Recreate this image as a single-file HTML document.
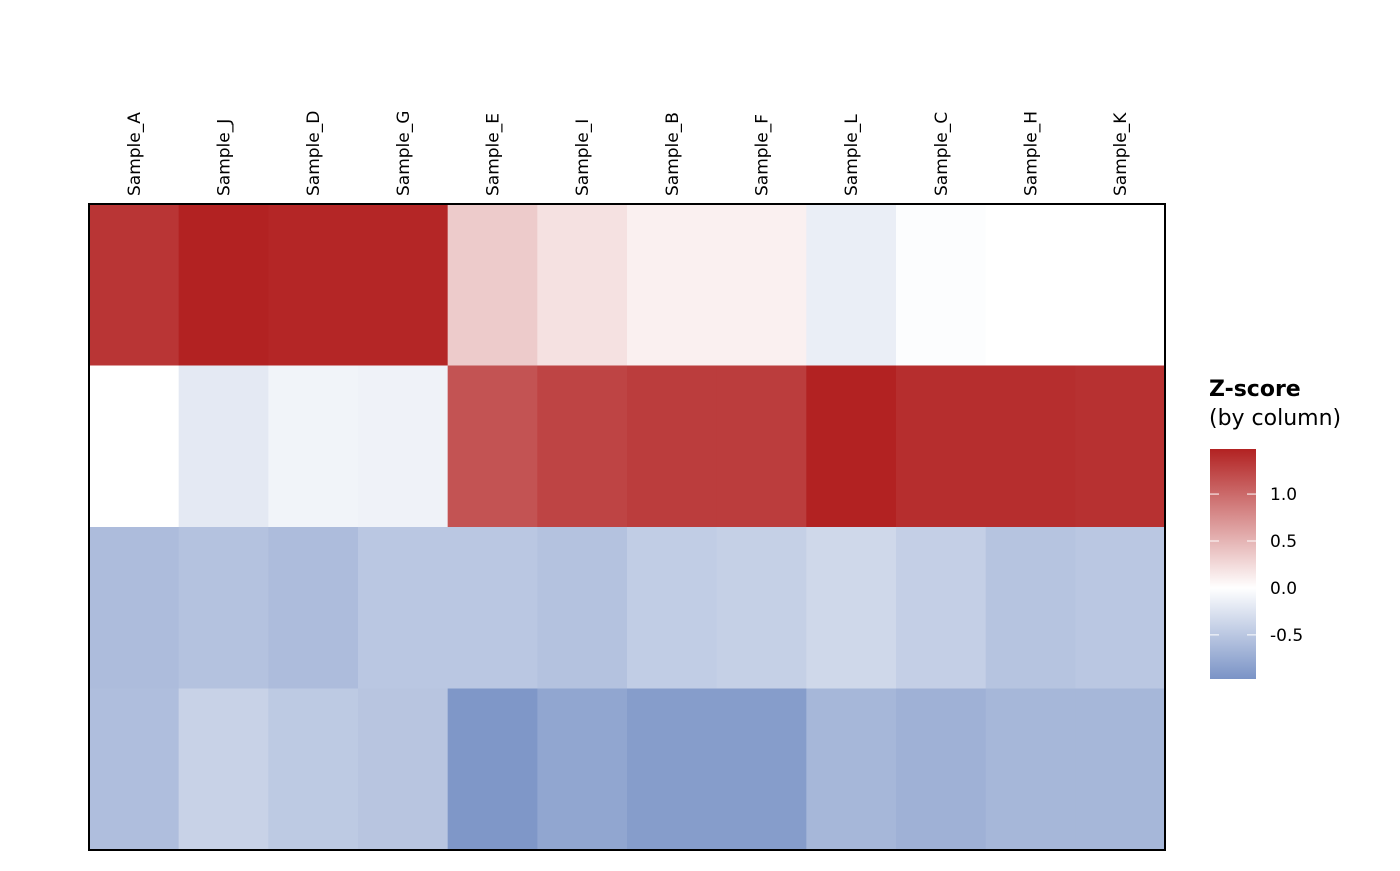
<!DOCTYPE html>
<html><head><meta charset="utf-8"><style>
body{margin:0;background:#fff;}
svg text{font-family:"DejaVu Sans","Liberation Sans",sans-serif;}
</style></head><body>
<svg id="chart" width="1400" height="866" xmlns="http://www.w3.org/2000/svg">
<g id="cells"></g>
<g id="collabels"></g>
<rect x="89" y="204" width="1076" height="646" fill="none" stroke="#000" stroke-width="2"/>
<g>
<text x="1209" y="396" font-size="22" font-weight="bold">Z-score</text>
<text x="1209" y="425" font-size="22">(by column)</text>
<defs><linearGradient id="lg" x1="0" y1="1" x2="0" y2="0">
<stop offset="0" stop-color="#7a93c6"/><stop offset="0.396" stop-color="#ffffff"/><stop offset="1" stop-color="#b22222"/>
</linearGradient></defs>
<rect x="1210" y="449" width="46" height="230" fill="url(#lg)"/>
<g id="legticks"></g>
</g>
</svg>
<script>
const samples=["Sample_A","Sample_J","Sample_D","Sample_G","Sample_E","Sample_I","Sample_B","Sample_F","Sample_L","Sample_C","Sample_H","Sample_K"];
const row1=[1.35,1.48,1.45,1.45,0.35,0.2,0.1,0.1,-0.15,-0.02,0.0,0.0];
const row2=[0.0,-0.2,-0.1,-0.12,1.15,1.25,1.3,1.3,1.48,1.4,1.4,1.38];
const row3=[-0.6,-0.55,-0.6,-0.5,-0.5,-0.55,-0.45,-0.42,-0.35,-0.43,-0.53,-0.5];
const row4=[-0.58,-0.4,-0.48,-0.52,-0.93,-0.8,-0.88,-0.88,-0.65,-0.7,-0.65,-0.65];
const legendTicks=[1.0,0.5,0.0,-0.5];
const legendLabels=["1.0","0.5","0.0","-0.5"];
const vmin=-0.97,vmax=1.48;
const rows=[row1,row2,row3,row4];
const NS="http://www.w3.org/2000/svg";
const x0=89,y0=204,W=1076,H=646;
const cw=W/samples.length,rh=H/rows.length;
function lerp(a,b,t){return a.map((v,i)=>Math.round(v+(b[i]-v)*t));}
function color(v){
  const blue=[122,147,198],white=[255,255,255],red=[178,34,34];
  let c; if(v<0){c=lerp(white,blue,Math.min(1,-v/(-vmin)));} else {c=lerp(white,red,Math.min(1,v/vmax));}
  return `rgb(${c[0]},${c[1]},${c[2]})`;
}
function legY(v){return 449+(vmax-v)/(vmax-vmin)*230;}
const cells=document.getElementById('cells');
rows.forEach((r,ri)=>r.forEach((v,ci)=>{
  const e=document.createElementNS(NS,'rect');
  e.setAttribute('x',x0+ci*cw);e.setAttribute('y',y0+ri*rh);
  e.setAttribute('width',cw+0.5);e.setAttribute('height',rh+0.5);
  e.setAttribute('fill',color(v));
  
  
  cells.appendChild(e);
}));
const cl=document.getElementById('collabels');
samples.forEach((s,i)=>{
  const t=document.createElementNS(NS,'text');
  const cx=x0+(i+0.5)*cw+6;
  t.setAttribute('transform',`translate(${cx},196) rotate(-90)`);
  t.setAttribute('font-size','17');
  t.textContent=s;
  
  
  cl.appendChild(t);
});
const lt=document.getElementById('legticks');
legendTicks.forEach((v,i)=>{
  const y=legY(v);
  const l=document.createElementNS(NS,'line');
  l.setAttribute('x1',1210);l.setAttribute('x2',1219);l.setAttribute('y1',y);l.setAttribute('y2',y);l.setAttribute('stroke','#fff');
  
  
  lt.appendChild(l);
  const l2=document.createElementNS(NS,'line');
  l2.setAttribute('x1',1247);l2.setAttribute('x2',1256);l2.setAttribute('y1',y);l2.setAttribute('y2',y);l2.setAttribute('stroke','#fff');
  
  
  lt.appendChild(l2);
  const t=document.createElementNS(NS,'text');
  t.setAttribute('x',1270);t.setAttribute('y',y+6);t.setAttribute('font-size','17');
  t.textContent=legendLabels[i];
  
  
  lt.appendChild(t);
});
</script>
</body></html>
